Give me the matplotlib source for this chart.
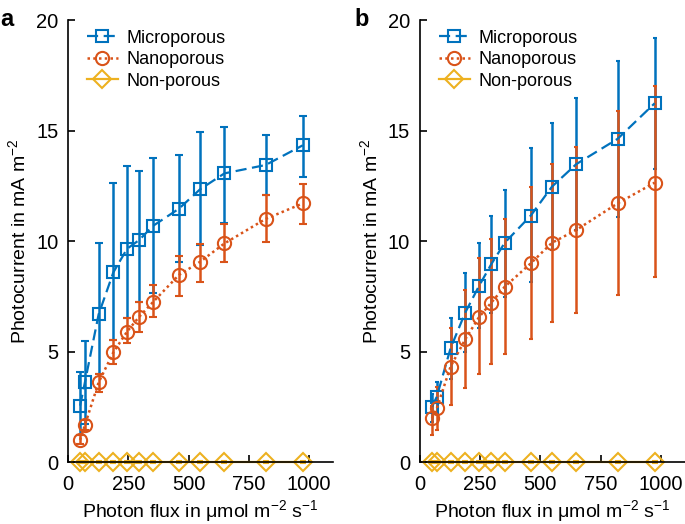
import numpy as np
import matplotlib
matplotlib.use("Agg")
import matplotlib.pyplot as plt
from matplotlib.lines import Line2D

plt.rcParams['font.family'] = ['Liberation Sans', 'DejaVu Sans']
plt.rcParams['mathtext.fontset'] = 'custom'
plt.rcParams['mathtext.rm'] = 'Liberation Sans'
plt.rcParams['mathtext.it'] = 'Liberation Sans:italic'

# photon flux (umol m-2 s-1)
flux = [50, 70, 127, 188, 245, 296, 352, 460, 548, 649, 820, 974]
series_names = ['Microporous', 'Nanoporous', 'Non-porous']

# panel a
micro_a = [2.55, 3.6, 6.68, 8.58, 9.65, 10.05, 10.68, 11.46, 12.34, 13.06, 13.44, 14.33]
micro_a_hi = [4.06, 5.49, 9.9, 12.64, 13.41, 13.18, 13.75, 13.9, 14.95, 15.15, 14.8, 15.67]
micro_a_lo = [1.2, 1.7, 4.0, 5.5, 6.5, 7.25, 7.63, 9.06, 9.82, 10.83, 12.08, 12.91]
nano_a = [1.0, 1.67, 3.6, 4.96, 5.9, 6.58, 7.23, 8.46, 9.06, 9.89, 11.0, 11.7]
nano_a_hi = [1.2, 1.9, 4.0, 5.52, 6.5, 7.25, 8.0, 9.32, 9.86, 10.77, 12.08, 12.56]
nano_a_lo = [0.8, 1.45, 3.18, 4.43, 5.38, 5.9, 6.58, 7.51, 8.16, 9.06, 9.97, 10.77]

# panel b
micro_b = [2.5, 2.95, 5.14, 6.76, 7.96, 8.95, 9.92, 11.15, 12.46, 13.48, 14.62, 16.23]
micro_b_hi = [3.1, 3.63, 6.5, 8.54, 9.9, 11.13, 12.3, 14.19, 15.35, 16.46, 18.16, 19.17]
micro_b_lo = [1.8, 2.2, 3.74, 4.99, 6.05, 6.76, 7.48, 8.16, 9.6, 10.5, 11.1, 13.24]
nano_b = [1.98, 2.43, 4.31, 5.55, 6.55, 7.21, 7.93, 8.99, 9.92, 10.5, 11.7, 12.64]
nano_b_hi = [2.55, 3.4, 6.05, 7.78, 9.22, 10.08, 10.98, 12.43, 13.47, 14.25, 15.9, 17.0]
nano_b_lo = [1.2, 1.45, 2.58, 3.33, 3.98, 4.42, 4.87, 5.57, 6.32, 6.76, 7.56, 8.36]

# non-porous is flat at zero in both panels
nonporous = [0.0] * 12
nonporous_err = [0.05] * 12

x_ticks = [0, 250, 500, 750, 1000]
y_ticks = [0, 5, 10, 15, 20]

BLUE = '#0072BD'
ORANGE = '#D95319'
YELLOW = '#EDB120'

micro_style = dict(color=BLUE, linestyle=(0, (5, 2.5)), linewidth=1.6,
                   marker='s', markersize=8, markerfacecolor='none', markeredgewidth=1.5)
nano_style = dict(color=ORANGE, linestyle=(0, (1, 1.3)), linewidth=1.8,
                  marker='o', markersize=9.5, markerfacecolor='none', markeredgewidth=1.5)
non_style = dict(color=YELLOW, linestyle='-', linewidth=1.6,
                 marker='D', markersize=9, markerfacecolor='none', markeredgewidth=1.5)


def draw_panel(ax, micro, micro_lo, micro_hi, nano, nano_lo, nano_hi, capsize):
    x = np.array(flux)
    m = np.array(micro)
    n = np.array(nano)
    ax.errorbar(x, m, yerr=[m - np.array(micro_lo), np.array(micro_hi) - m],
                elinewidth=1.8, capsize=capsize, capthick=1.8, **micro_style)
    ax.errorbar(x, n, yerr=[n - np.array(nano_lo), np.array(nano_hi) - n],
                elinewidth=1.8, capsize=capsize, capthick=1.8, **nano_style)
    ax.errorbar(x, nonporous, yerr=nonporous_err, elinewidth=1.5, capsize=2,
                clip_on=False, **non_style)

    ax.set_xlim(0, 1100)
    ax.set_ylim(0, 20)
    ax.set_xticks(x_ticks)
    ax.set_yticks(y_ticks)
    ax.spines['top'].set_visible(False)
    ax.spines['right'].set_visible(False)
    ax.spines['left'].set_linewidth(1.2)
    ax.spines['bottom'].set_linewidth(1.2)
    ax.tick_params(direction='in', length=5, width=1.2, labelsize=14.5)
    ax.tick_params(axis='x', pad=9)
    ax.tick_params(axis='y', pad=7)
    ax.set_xlabel(r'Photon flux in μmol m$^{-2}$ s$^{-1}$', fontsize=14, labelpad=3)
    ax.set_ylabel(r'Photocurrent in mA m$^{-2}$', fontsize=14, labelpad=5)

    handles = [Line2D([], [], **micro_style), Line2D([], [], **nano_style),
               Line2D([], [], **non_style)]
    ax.legend(handles, series_names, loc='upper left', bbox_to_anchor=(0.01, 1.015),
              frameon=False, fontsize=13, handlelength=1.7, handletextpad=0.5,
              labelspacing=0.25)


fig = plt.figure(figsize=(6.85, 5.24), dpi=100)
ax_a = fig.add_axes([0.0993, 0.1183, 0.387, 0.8435])
ax_b = fig.add_axes([0.613, 0.1183, 0.387, 0.8435])

draw_panel(ax_a, micro_a, micro_a_lo, micro_a_hi, nano_a, nano_a_lo, nano_a_hi, 3)
draw_panel(ax_b, micro_b, micro_b_lo, micro_b_hi, nano_b, nano_b_lo, nano_b_hi, 1.5)

fig.text(0.0, 0.985, 'a', fontsize=17, fontweight='bold', va='top', ha='left')
fig.text(0.517, 0.985, 'b', fontsize=17, fontweight='bold', va='top', ha='left')

fig.savefig('out.png', dpi=100)
